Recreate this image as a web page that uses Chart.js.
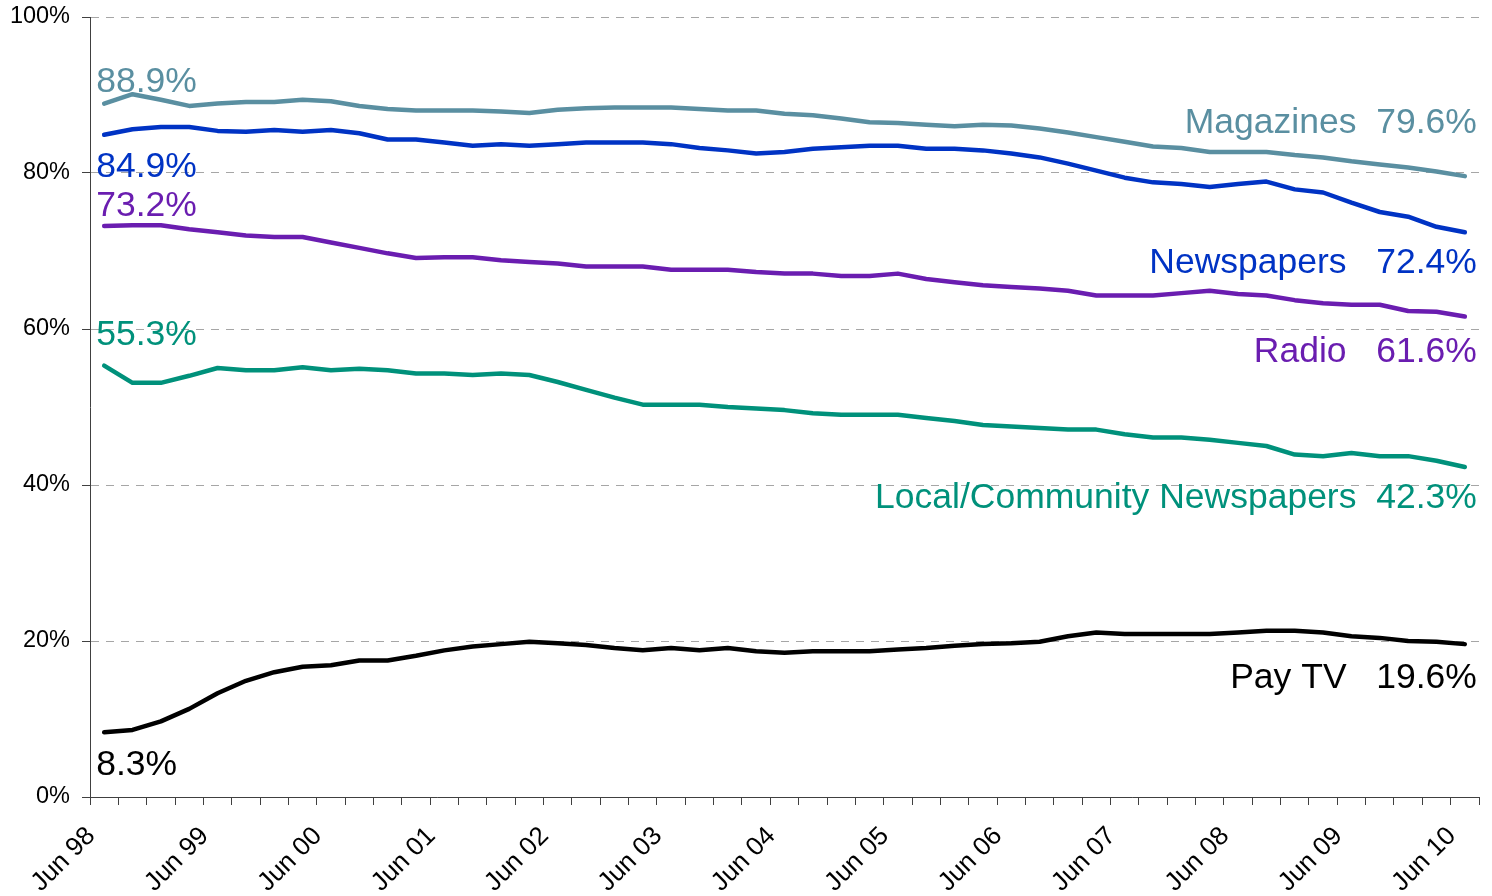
<!DOCTYPE html>
<html>
<head>
<meta charset="utf-8">
<script src="https://cdn.jsdelivr.net/npm/chart.js@4/dist/chart.umd.min.js"></script>
<style>
  html, body { margin: 0; padding: 0; background: #ffffff; }
  #wrap { width: 1492px; height: 896px; }
</style>
</head>
<body>
<div id="wrap"><canvas id="c" width="1492" height="896"></canvas></div>
<script>
// Quarterly readership, Jun 1998 – Jun 2010 (percent)
const quarters = [
  'Jun 98','Sep 98','Dec 98','Mar 99','Jun 99','Sep 99','Dec 99','Mar 00',
  'Jun 00','Sep 00','Dec 00','Mar 01','Jun 01','Sep 01','Dec 01','Mar 02',
  'Jun 02','Sep 02','Dec 02','Mar 03','Jun 03','Sep 03','Dec 03','Mar 04',
  'Jun 04','Sep 04','Dec 04','Mar 05','Jun 05','Sep 05','Dec 05','Mar 06',
  'Jun 06','Sep 06','Dec 06','Mar 07','Jun 07','Sep 07','Dec 07','Mar 08',
  'Jun 08','Sep 08','Dec 08','Mar 09','Jun 09','Sep 09','Dec 09','Mar 10',
  'Jun 10'
];

const magazines = [
  88.9, 90.1, 89.4, 88.6, 88.9, 89.1, 89.1, 89.4, 89.2, 88.6,
  88.2, 88.0, 88.0, 88.0, 87.9, 87.7, 88.1, 88.3, 88.4, 88.4,
  88.4, 88.2, 88.0, 88.0, 87.6, 87.4, 87.0, 86.5, 86.4, 86.2,
  86.0, 86.2, 86.1, 85.7, 85.2, 84.6, 84.0, 83.4, 83.2, 82.7,
  82.7, 82.7, 82.3, 82.0, 81.5, 81.1, 80.7, 80.2, 79.6
];

const newspapers = [
  84.9, 85.6, 85.9, 85.9, 85.4, 85.3, 85.5, 85.3, 85.5, 85.1,
  84.3, 84.3, 83.9, 83.5, 83.7, 83.5, 83.7, 83.9, 83.9, 83.9,
  83.7, 83.2, 82.9, 82.5, 82.7, 83.1, 83.3, 83.5, 83.5, 83.1,
  83.1, 82.9, 82.5, 82.0, 81.2, 80.3, 79.4, 78.8, 78.6, 78.2,
  78.6, 78.9, 77.9, 77.5, 76.2, 75.0, 74.4, 73.1, 72.4
];

const radio = [
  73.2, 73.3, 73.3, 72.8, 72.4, 72.0, 71.8, 71.8, 71.1, 70.4,
  69.7, 69.1, 69.2, 69.2, 68.8, 68.6, 68.4, 68.0, 68.0, 68.0,
  67.6, 67.6, 67.6, 67.3, 67.1, 67.1, 66.8, 66.8, 67.1, 66.4,
  66.0, 65.6, 65.4, 65.2, 64.9, 64.3, 64.3, 64.3, 64.6, 64.9,
  64.5, 64.3, 63.7, 63.3, 63.1, 63.1, 62.3, 62.2, 61.6
];

const localCommunity = [
  55.3, 53.1, 53.1, 54.0, 55.0, 54.7, 54.7, 55.1, 54.7, 54.9,
  54.7, 54.3, 54.3, 54.1, 54.3, 54.1, 53.2, 52.2, 51.2, 50.3,
  50.3, 50.3, 50.0, 49.8, 49.6, 49.2, 49.0, 49.0, 49.0, 48.6,
  48.2, 47.7, 47.5, 47.3, 47.1, 47.1, 46.5, 46.1, 46.1, 45.8,
  45.4, 45.0, 43.9, 43.7, 44.1, 43.7, 43.7, 43.1, 42.3
];

const payTV = [
   8.3,  8.6,  9.7, 11.3, 13.3, 14.9, 16.0, 16.7, 16.9, 17.5,
  17.5, 18.1, 18.8, 19.3, 19.6, 19.9, 19.7, 19.5, 19.1, 18.8,
  19.1, 18.8, 19.1, 18.7, 18.5, 18.7, 18.7, 18.7, 18.9, 19.1,
  19.4, 19.6, 19.7, 19.9, 20.6, 21.1, 20.9, 20.9, 20.9, 20.9,
  21.1, 21.3, 21.3, 21.1, 20.6, 20.4, 20.0, 19.9, 19.6
];

const seriesNames = ['Magazines', 'Newspapers', 'Radio', 'Local/Community Newspapers', 'Pay TV'];
const seriesValues = [magazines, newspapers, radio, localCommunity, payTV];
const seriesColors = ['#5A8FA1', '#0033C4', '#6A1DB0', '#00917B', '#000000'];
const nameGaps = ['  ', '   ', '   ', '  ', '   '];
const yTicks = [0, 20, 40, 60, 80, 100];

// Baseline offsets (px) of the start / end annotations relative to the first / last point
const startLabelDy = [-12, 42, -10, -21, 43];
const endLabelDy = [-43, 41, 45, 41, 44];

const FONT = "'Liberation Sans', Arial, sans-serif";

const fmt = v => v.toFixed(1) + '%';

const endLabels = {
  id: 'endLabels',
  afterDatasetsDraw(chart) {
    const ctx = chart.ctx;
    ctx.save();
    ctx.font = '35.5px ' + FONT;
    ctx.textBaseline = 'alphabetic';
    chart.data.datasets.forEach((ds, i) => {
      const pts = chart.getDatasetMeta(i).data;
      const first = pts[0], last = pts[pts.length - 1];
      ctx.fillStyle = seriesColors[i];
      ctx.textAlign = 'left';
      ctx.fillText(fmt(ds.data[0]), first.x - 8, first.y + startLabelDy[i]);
      ctx.textAlign = 'right';
      ctx.fillText(seriesNames[i] + nameGaps[i] + fmt(ds.data[ds.data.length - 1]), last.x + 12, last.y + endLabelDy[i]);
    });
    ctx.restore();
  }
};

new Chart(document.getElementById('c'), {
  type: 'line',
  data: {
    labels: quarters,
    datasets: seriesValues.map((vals, i) => ({
      label: seriesNames[i],
      data: vals,
      borderColor: seriesColors[i],
      backgroundColor: seriesColors[i],
      borderWidth: 4.5,
      pointRadius: 0,
      tension: 0,
      fill: false,
      borderCapStyle: 'round',
      borderJoinStyle: 'round'
    }))
  },
  options: {
    responsive: false,
    animation: false,
    devicePixelRatio: 1,
    layout: { padding: { top: 17, right: 13, left: 0, bottom: 0 } },
    plugins: {
      legend: { display: false },
      tooltip: { enabled: false }
    },
    scales: {
      x: {
        type: 'category',
        offset: true,
        grid: {
          offset: true,
          drawOnChartArea: false,
          drawTicks: true,
          tickLength: 8,
          tickColor: '#404040',
          tickWidth: 1
        },
        border: { display: true, color: '#404040', width: 1 },
        ticks: {
          autoSkip: false,
          maxRotation: 45,
          minRotation: 45,
          color: '#000000',
          font: { family: FONT, size: 26 },
          padding: 16,
          labelOffset: -13,
          callback: function (value, index) {
            return index % 4 === 0 ? quarters[index] : '';
          }
        },
        afterFit(scale) {
          scale.height = 99;
          scale.paddingLeft = 0;
          scale.paddingRight = 0;
        }
      },
      y: {
        min: 0,
        max: 100,
        afterBuildTicks(scale) { scale.ticks = yTicks.map(v => ({ value: v })); },
        grid: {
          color: '#A6A6A6',
          lineWidth: 1,
          drawTicks: true,
          tickLength: 8,
          tickColor: '#404040',
          tickBorderDash: []
        },
        border: { display: true, color: '#404040', width: 1, dash: [8, 7] },
        ticks: {
          color: '#000000',
          font: { family: FONT, size: 23.5 },
          padding: 12,
          callback: v => v + '%'
        },
        afterFit(scale) {
          scale.width = 90;
          scale.paddingTop = 0;
          scale.paddingBottom = 0;
        }
      }
    }
  },
  plugins: [endLabels]
});
</script>
</body>
</html>
